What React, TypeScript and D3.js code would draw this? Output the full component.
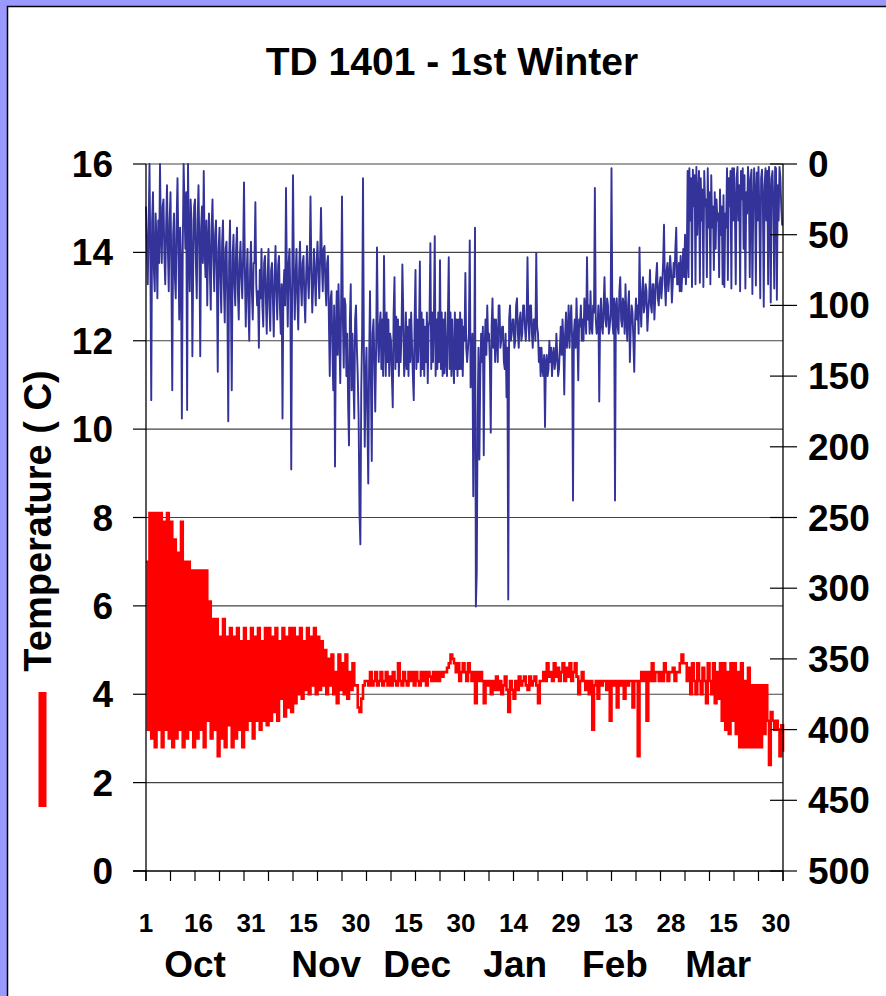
import React from "react";
import * as d3 from "d3";

// ---- data ----
// depth: quarter-day samples starting Oct 1 (metres)
const DEPTH_STEP_DAYS = 0.25;
const depth: number[] = [
  30, 60, 85, 45, 0, 70, 167, 40, 20, 75, 90, 35, 55, 95, 40, 70, 0, 50, 70, 30, 25, 65, 85, 45, 15, 60, 90, 40,
  20, 75, 160, 50, 35, 80, 95, 40, 10, 60, 110, 45, 70, 180, 60, 0, 30, 60, 20, 174, 0, 55, 90, 25, 40, 136, 70, 30,
  25, 70, 95, 40, 15, 60, 136, 45, 30, 70, 5, 60, 80, 40, 100, 55, 35, 75, 103, 45, 25, 65, 90, 50, 40, 80, 147, 60,
  45, 80, 105, 55, 40, 85, 112, 60, 55, 100, 182, 70, 40, 95, 160, 65, 50, 85, 100, 60, 45, 90, 110, 70, 55, 80, 95, 65,
  13, 75, 115, 80, 60, 100, 125, 75, 55, 90, 110, 70, 70, 27, 85, 100, 90, 130, 75, 95, 60, 100, 115, 70, 65, 95, 120, 80,
  60, 100, 118, 75, 70, 95, 122, 80, 58, 90, 110, 72, 65, 100, 120, 85, 180, 90, 75, 100, 17, 80, 115, 70, 60, 95, 216, 90,
  8, 75, 110, 80, 60, 95, 117, 75, 55, 85, 100, 70, 65, 95, 112, 80, 58, 80, 95, 70, 23, 75, 105, 85, 60, 80, 100, 70,
  55, 75, 95, 65, 31, 70, 90, 60, 58, 85, 100, 70, 65, 110, 150, 95, 90, 130, 160, 100, 214, 120, 90, 135, 85, 120, 155, 100,
  23, 110, 144, 95, 100, 150, 120, 170, 199, 110, 85, 160, 120, 150, 180, 110, 100, 130, 150, 180, 247, 269, 160, 120, 10, 130, 200, 150,
  130, 180, 226, 140, 90, 150, 210, 120, 110, 140, 175, 130, 59, 120, 140, 115, 105, 145, 110, 150, 65, 120, 150, 105, 140, 110, 150, 120,
  125, 150, 172, 105, 80, 145, 108, 140, 110, 150, 115, 140, 120, 71, 105, 150, 140, 105, 145, 115, 150, 110, 140, 105, 128, 150, 167, 110,
  75, 145, 110, 140, 120, 69, 150, 105, 145, 110, 150, 115, 140, 105, 155, 115, 110, 56, 145, 105, 140, 110, 51, 150, 110, 145, 105, 140,
  68, 145, 105, 150, 110, 148, 105, 140, 150, 110, 66, 145, 105, 150, 110, 140, 155, 105, 145, 110, 150, 110, 145, 105, 145, 110, 150, 115,
  125, 77, 130, 140, 130, 120, 54, 158, 140, 120, 235, 150, 45, 313, 289, 180, 130, 209, 150, 120, 140, 115, 206, 130, 110, 135, 100, 125,
  120, 140, 190, 115, 95, 130, 110, 140, 110, 125, 140, 100, 100, 130, 125, 115, 115, 140, 145, 120, 165, 130, 308, 110, 100, 125, 120, 110,
  110, 130, 125, 100, 95, 120, 130, 110, 105, 125, 120, 100, 100, 115, 125, 110, 66, 110, 125, 100, 100, 120, 130, 110, 110, 125, 63, 115,
  120, 140, 130, 150, 130, 145, 150, 135, 186, 140, 135, 150, 145, 125, 140, 130, 150, 135, 130, 145, 140, 120, 135, 150, 145, 130, 115, 135,
  110, 125, 163, 120, 105, 130, 120, 100, 130, 110, 100, 125, 238, 120, 110, 130, 95, 120, 153, 110, 115, 100, 125, 110, 125, 95, 105, 120,
  66, 110, 100, 120, 90, 115, 120, 100, 105, 17, 110, 120, 115, 100, 168, 110, 95, 115, 120, 100, 80, 110, 115, 95, 100, 120, 115, 105,
  3, 110, 120, 95, 238, 100, 95, 115, 120, 90, 80, 110, 115, 95, 100, 120, 85, 110, 125, 100, 90, 140, 115, 100, 105, 125, 147, 110,
  95, 110, 100, 120, 59, 100, 115, 90, 80, 105, 100, 85, 90, 118, 105, 95, 75, 100, 105, 85, 85, 110, 95, 80, 70, 95, 100, 85,
  80, 95, 85, 70, 43, 85, 100, 75, 70, 90, 80, 65, 75, 98, 85, 70, 80, 60, 45, 85, 85, 70, 90, 65, 90, 75, 60, 80,
  50, 85, 70, 5, 80, 3, 40, 10, 87, 4, 30, 8, 85, 2, 50, 20, 5, 84, 10, 40, 18, 87, 5, 30, 25, 80, 3, 45,
  20, 85, 8, 45, 30, 75, 20, 60, 25, 40, 35, 80, 18, 50, 30, 85, 22, 87, 35, 45, 3, 82, 10, 30, 5, 88, 3, 40,
  3, 30, 85, 10, 2, 40, 15, 90, 5, 25, 3, 60, 8, 88, 20, 35, 2, 15, 80, 10, 4, 92, 30, 3, 20, 86, 6, 40,
  2, 35, 95, 10, 4, 25, 101, 15, 3, 40, 5, 85, 2, 20, 98, 10, 5, 30, 88, 2, 3, 96, 15, 40, 2, 10, 30, 43,
  43,
];

// temperature: half-day samples starting Oct 1 (deg C)
const TEMP_STEP_DAYS = 0.5;
const temperature: number[] = [
  7.0, 3.2, 8.1, 3.0, 8.1, 2.8, 8.1, 3.2, 8.1, 2.8, 7.9, 3.2, 8.1, 3.0,
  7.9, 2.8, 7.5, 3.0, 7.2, 3.2, 7.9, 2.8, 7.0, 3.0, 7.0, 3.2, 6.8, 2.8,
  6.8, 3.0, 6.8, 3.2, 6.8, 2.8, 6.8, 3.4, 6.1, 3.0, 5.7, 3.2, 5.7, 2.6,
  5.3, 3.0, 5.7, 2.8, 5.3, 3.3, 5.5, 2.8, 5.3, 3.0, 5.5, 3.2, 5.2, 2.8,
  5.5, 3.2, 5.2, 3.4, 5.5, 3.0, 5.3, 3.4, 5.5, 3.2, 5.2, 3.4, 5.5, 3.3,
  5.5, 3.4, 5.3, 3.6, 5.5, 3.4, 5.2, 3.9, 5.5, 3.5, 5.3, 3.7, 5.5, 3.6,
  5.5, 3.8, 5.3, 4.0, 5.5, 3.9, 5.2, 4.1, 5.5, 4.0, 5.3, 4.2, 5.5, 4.0,
  5.3, 4.1, 5.2, 4.2, 5.0, 4.0, 4.8, 4.2, 4.9, 4.0, 4.5, 3.8, 4.9, 4.1,
  4.7, 4.0, 4.9, 3.9, 4.5, 4.1, 4.7, 4.2, 4.2, 3.7, 3.6, 3.9, 4.2, 4.3,
  4.3, 4.2, 4.5, 4.2, 4.3, 4.5, 4.2, 4.3, 4.5, 4.2, 4.3, 4.5, 4.2, 4.4,
  4.2, 4.5, 4.3, 4.2, 4.7, 4.3, 4.2, 4.5, 4.3, 4.2, 4.5, 4.3, 4.5, 4.2,
  4.5, 4.3, 4.2, 4.5, 4.3, 4.5, 4.2, 4.5, 4.4, 4.3, 4.5, 4.3, 4.5, 4.3,
  4.5, 4.4, 4.5, 4.5, 4.6, 4.7, 4.9, 4.8, 4.7, 4.5, 4.7, 4.3, 4.5, 4.7,
  4.5, 4.3, 4.7, 4.5, 4.3, 4.5, 3.8, 4.5, 4.3, 4.5, 4.3, 3.8, 4.3, 4.2,
  4.3, 4.0, 4.3, 4.1, 4.4, 4.1, 4.3, 4.0, 4.2, 4.4, 4.1, 3.6, 4.3, 4.1,
  3.9, 4.3, 4.1, 4.4, 4.2, 4.3, 4.4, 4.2, 4.1, 4.4, 4.2, 4.3, 4.4, 4.2,
  3.8, 4.3, 4.3, 4.5, 4.3, 4.7, 4.4, 4.5, 4.3, 4.7, 4.4, 4.6, 4.3, 4.5,
  4.7, 4.3, 4.6, 4.4, 4.7, 4.3, 4.5, 4.7, 4.4, 4.0, 4.3, 4.5, 4.3, 4.1,
  4.3, 4.0, 4.3, 3.2, 4.2, 4.3, 3.9, 4.3, 4.2, 4.3, 4.3, 4.1, 4.3, 3.4,
  4.3, 4.2, 4.3, 3.7, 4.3, 4.2, 4.3, 3.9, 4.3, 4.2, 4.3, 4.3, 3.7, 4.3,
  4.3, 2.6, 4.3, 4.5, 4.3, 4.5, 3.4, 4.5, 4.3, 4.7, 4.3, 4.5, 4.5, 4.3,
  4.5, 4.3, 4.7, 4.5, 4.3, 4.5, 4.5, 4.6, 4.3, 4.5, 4.5, 4.7, 4.9, 4.7,
  4.7, 4.3, 4.6, 4.0, 4.7, 4.3, 4.0, 4.7, 4.3, 4.0, 4.6, 4.3, 3.8, 4.7,
  4.3, 4.0, 4.7, 3.8, 4.5, 3.9, 4.7, 3.4, 4.7, 3.2, 4.5, 3.1, 4.7, 3.4,
  4.7, 3.1, 4.5, 2.8, 4.7, 2.8, 4.3, 2.8, 4.6, 2.8, 4.2, 2.8, 4.2, 2.8,
  4.2, 2.8, 4.2, 3.1, 4.2, 3.4, 2.4, 3.6, 3.4, 3.2, 3.4, 3.2, 2.6, 3.3,
  2.7,
];

const tempTicks: number[] = [0, 2, 4, 6, 8, 10, 12, 14, 16];
const depthTicks: number[] = [0, 50, 100, 150, 200, 250, 300, 350, 400, 450, 500];
const dayLabelDays: number[] = [0, 15, 30, 45, 60, 75, 90, 105, 120, 135, 150, 165, 180];
const dayLabels: string[] = ["1", "16", "31", "15", "30", "15", "30", "14", "29", "13", "28", "15", "30"];
const months: string[] = ["Oct", "Nov", "Dec", "Jan", "Feb", "Mar"];
const monthLabelDays: number[] = [14, 51.5, 77.5, 105.5, 134, 163.5];
const TOTAL_DAYS = 182;
const MINOR_TICK_DAYS = 7;

const FONT = "'Liberation Sans', Arial, Helvetica, sans-serif";

export default function App() {
  const W = 886;
  const H = 996;
  const left = 146;
  const right = 783;
  const top = 164;
  const bottom = 871;

  const x = d3.scaleLinear().domain([0, TOTAL_DAYS]).range([left, right]);
  const yT = d3.scaleLinear().domain([0, 16]).range([bottom, top]);
  const yD = d3.scaleLinear().domain([0, 500]).range([top, bottom]);

  const depthLine = d3
    .line<number>()
    .x((_, i) => x(i * DEPTH_STEP_DAYS))
    .y((d) => yD(d));
  const tempLine = d3
    .line<number>()
    .x((_, i) => x(i * TEMP_STEP_DAYS))
    .y((d) => yT(d))
    .curve(d3.curveStepAfter);

  const minorTicks = d3.range(0, TOTAL_DAYS + 0.001, MINOR_TICK_DAYS);

  return (
    <svg
      width={W}
      height={H}
      style={{ position: "absolute", left: 0, top: 0, display: "block" }}
      fontFamily={FONT}
      fontWeight="bold"
    >
      <rect x={0} y={0} width={W} height={H} fill="#9999ff" />
      <rect x={7.5} y={6.5} width={W + 20} height={H + 20} fill="#ffffff" stroke="#000" strokeWidth={1.5} />

      <text x={452} y={75} textAnchor="middle" fontSize={39} fill="#000">
        TD 1401 - 1st Winter
      </text>

      {/* gridlines */}
      {tempTicks.filter((t) => t > 0).map((t) => (
        <line key={"g" + t} x1={left} x2={right} y1={yT(t)} y2={yT(t)} stroke="#444" strokeWidth={1.2} />
      ))}

      {/* data */}
      <path d={depthLine(depth) || ""} fill="none" stroke="#333399" strokeWidth={1.9} strokeLinejoin="round" />
      <path d={tempLine(temperature) || ""} fill="none" stroke="#ff0000" strokeWidth={2.6} />

      {/* axes */}
      <line x1={left - 13} x2={right} y1={bottom} y2={bottom} stroke="#000" strokeWidth={1.3} />
      <line x1={left} x2={left} y1={top} y2={bottom + 10} stroke="#000" strokeWidth={1.3} />
      <line x1={right} x2={right} y1={top} y2={bottom + 10} stroke="#000" strokeWidth={1.3} />
      {tempTicks.map((t) => (
        <g key={"lt" + t}>
          <line x1={left - 13} x2={left} y1={yT(t)} y2={yT(t)} stroke="#000" strokeWidth={1.2} />
          <text x={113} y={yT(t) + 13} textAnchor="end" fontSize={37} fill="#000">
            {t}
          </text>
        </g>
      ))}
      {depthTicks.map((d) => (
        <g key={"rt" + d}>
          <line x1={right - 13} x2={right + 14} y1={yD(d)} y2={yD(d)} stroke="#000" strokeWidth={1.2} />
          <text x={808} y={yD(d) + 13} textAnchor="start" fontSize={37} fill="#000">
            {d}
          </text>
        </g>
      ))}
      {minorTicks.map((d) => (
        <line key={"mt" + d} x1={x(d)} x2={x(d)} y1={bottom} y2={bottom + 10} stroke="#000" strokeWidth={1.2} />
      ))}
      {dayLabelDays.map((d, i) => (
        <text key={"dl" + i} x={x(d)} y={932} textAnchor="middle" fontSize={26} fill="#000">
          {dayLabels[i]}
        </text>
      ))}
      {months.map((m, i) => (
        <text key={m} x={x(monthLabelDays[i])} y={977} textAnchor="middle" fontSize={37} fill="#000">
          {m}
        </text>
      ))}

      {/* y-axis title and legend key */}
      <text transform="translate(51,521) rotate(-90)" textAnchor="middle" fontSize={38} fill="#000">
        Temperature ( C)
      </text>
      <line x1={42.5} x2={42.5} y1={692} y2={807} stroke="#ff0000" strokeWidth={8} />
    </svg>
  );
}
